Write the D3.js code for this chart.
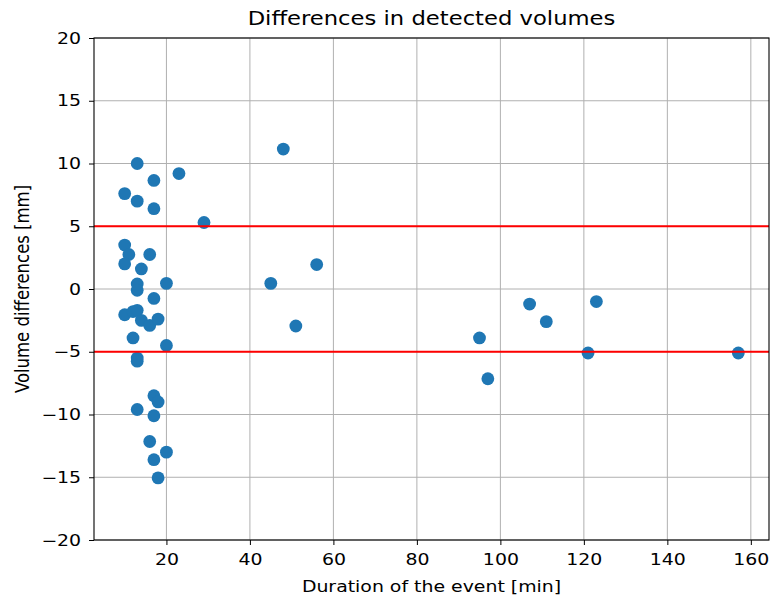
<!DOCTYPE html>
<html>
<head>
<meta charset="utf-8">
<script src="https://cdn.jsdelivr.net/npm/d3@7"></script>
<style>
  html, body { margin: 0; padding: 0; background: #fff; }
  svg { display: block; font-family: "DejaVu Sans", sans-serif; }
</style>
</head>
<body>
<svg id="chart" width="771" height="601"></svg>
<script>
// Event durations [min] and the matching volume differences [mm]
const durations = [13, 23, 17, 10, 13, 17, 29, 10, 11, 16, 10, 14, 13, 20, 13, 17,
                   10, 12, 13, 14, 16, 18, 12, 20, 13, 13, 17, 18, 13, 17, 16, 20, 17, 18,
                   48, 56, 45, 51, 95, 97, 107, 111, 123, 121, 157];
const volumeDiffs = [10.0, 9.2, 8.65, 7.6, 7.0, 6.4, 5.3, 3.5, 2.75, 2.75, 2.0, 1.6, 0.4, 0.45, -0.1, -0.75,
                     -2.05, -1.8, -1.7, -2.5, -2.9, -2.4, -3.9, -4.5, -5.5, -5.75, -8.5, -9.0, -9.6, -10.1, -12.15, -13.0, -13.6, -15.05,
                     11.15, 1.95, 0.45, -2.95, -3.9, -7.15, -1.2, -2.6, -1.0, -5.1, -5.1];
const thresholds = [5, -5];
const xTicks = [20, 40, 60, 80, 100, 120, 140, 160];
const yTicks = [-20, -15, -10, -5, 0, 5, 10, 15, 20];

const points = durations.map((d, i) => ({ x: d, y: volumeDiffs[i] }));

const svg = d3.select("#chart");
const plotL = 94, plotR = 769, plotT = 38, plotB = 540;
const stretch = 1.2;   // horizontal widening of all text
const tickFont = 15.75, labelFont = 15.75, titleFont = 19.5;

// x domain with a 5% margin around the data range
const xMin = d3.min(durations), xMax = d3.max(durations);
const pad = (xMax - xMin) * 0.05;
const x = d3.scaleLinear().domain([xMin - pad, xMax + pad]).range([plotL, plotR]);
const y = d3.scaleLinear().domain([-20, 20]).range([plotB, plotT]);

// grid
const grid = svg.append("g");
grid.selectAll(".gx").data(xTicks).join("line")
  .attr("x1", d => x(d)).attr("x2", d => x(d))
  .attr("y1", plotT).attr("y2", plotB)
  .attr("stroke", "#b0b0b0").attr("stroke-width", 1);
grid.selectAll(".gy").data(yTicks).join("line")
  .attr("x1", plotL).attr("x2", plotR)
  .attr("y1", d => y(d)).attr("y2", d => y(d))
  .attr("stroke", "#b0b0b0").attr("stroke-width", 1);

// scatter
svg.append("g").selectAll("circle").data(points).join("circle")
  .attr("cx", d => x(d.x)).attr("cy", d => y(d.y))
  .attr("r", 6.4).attr("fill", "#1f77b4");

// threshold lines
svg.append("g").selectAll("line").data(thresholds).join("line")
  .attr("x1", plotL).attr("x2", plotR)
  .attr("y1", d => y(d)).attr("y2", d => y(d))
  .attr("stroke", "#ff0000").attr("stroke-width", 2.2);

// axes
const xAxis = svg.append("g").attr("transform", `translate(0,${plotB})`)
  .call(d3.axisBottom(x).tickValues(xTicks).tickSize(5).tickPadding(9).tickSizeOuter(0));
const yAxis = svg.append("g").attr("transform", `translate(${plotL},0)`)
  .call(d3.axisLeft(y).tickValues(yTicks).tickSize(5).tickPadding(8).tickSizeOuter(0)
    .tickFormat(d => d < 0 ? "\u2212" + Math.abs(d) : d));
[xAxis, yAxis].forEach(a => {
  a.select(".domain").remove();
  a.selectAll("text").attr("font-size", tickFont).attr("fill", "#000")
    .attr("font-family", "DejaVu Sans, sans-serif");
  a.selectAll("line").attr("stroke", "#000").attr("stroke-width", 1);
});
xAxis.selectAll("text").attr("transform", `scale(${stretch},1)`);
yAxis.selectAll("text").attr("x", -13 / stretch).attr("transform", `scale(${stretch},1)`);

// frame
svg.append("rect").attr("x", plotL).attr("y", plotT)
  .attr("width", plotR - plotL).attr("height", plotB - plotT)
  .attr("fill", "none").attr("stroke", "#000").attr("stroke-width", 1.1);

// labels
svg.append("text")
  .attr("transform", `translate(${(plotL + plotR) / 2},25) scale(${stretch * 0.97},1)`)
  .attr("text-anchor", "middle").attr("font-size", titleFont)
  .text("Differences in detected volumes");
svg.append("text")
  .attr("transform", `translate(${(plotL + plotR) / 2},592) scale(${stretch},1)`)
  .attr("text-anchor", "middle").attr("font-size", labelFont)
  .text("Duration of the event [min]");
svg.append("text")
  .attr("transform", `translate(29,${(plotT + plotB) / 2}) scale(${stretch * 15.75 / 16.5},1) rotate(-90)`)
  .attr("text-anchor", "middle").attr("font-size", 16.5)
  .text("Volume differences [mm]");
</script>
</body>
</html>
